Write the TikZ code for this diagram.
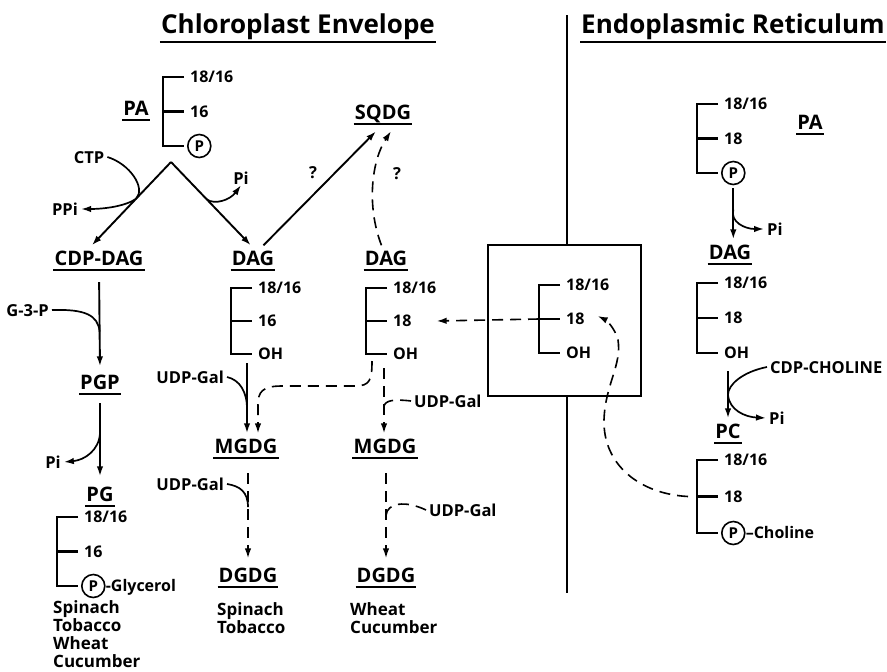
\documentclass[tikz,border=0pt]{standalone}
\usepackage{fontspec}
\setmainfont{Open Sans}
\usetikzlibrary{arrows.meta}
\tikzset{
  >={Latex[length=10pt,width=6.5pt]},
  heading/.style={font=\fontsize{26}{30}\selectfont\bfseries,anchor=base,inner xsep=1pt,inner ysep=9pt,text depth=0pt,
    append after command={(\tikzlastnode.south west) edge[line width=1.6pt] (\tikzlastnode.south east)}},
  lipid/.style={font=\fontsize{20}{24}\selectfont\bfseries,anchor=base,inner xsep=1pt,inner ysep=5pt,text depth=0pt,
    append after command={(\tikzlastnode.south west) edge[line width=1.8pt] (\tikzlastnode.south east)}},
  num/.style={font=\fontsize{16}{19}\selectfont\bfseries,anchor=west,inner sep=1pt,text height=11.5pt,text depth=0pt},
  agent/.style={font=\fontsize{16.5}{20}\selectfont\bfseries,inner xsep=3pt,inner ysep=1pt,text height=12pt,text depth=0pt},
  plant/.style={font=\fontsize{17}{18.2}\selectfont\bfseries,align=left,anchor=north west,inner sep=0pt},
  phos/.style={circle,draw,line width=1.6pt,minimum size=23pt,inner sep=0pt,anchor=west,xshift=3pt,
    text height=10.5pt,text depth=0pt,font=\fontsize{15}{18}\selectfont\bfseries},
  acyl/.style={line width=2.8pt},
  wall/.style={line width=2.8pt},
  flow/.style={->,line width=1.9pt},
  side/.style={line width=1.7pt},
  maybe/.style={->,line width=1.6pt,dash pattern=on 11pt off 7pt},
  % glycerol backbone with two acyl chains
  pics/chain/.style n args={3}{code={
    \draw[acyl] (21,0) -- (0,0) -- (0,#1) -- (21,#1) (0,#1/2) -- (21,#1/2);
    \node[num] (-top) at (26,0) {#2};
    \node[num] (-mid) at (26,#1/2) {#3};
    \coordinate (-end) at (21,#1);
    \coordinate (-lbl) at (26,#1);
    \coordinate (-spine) at (0,#1/2);
  }},
}
\begin{document}
\begin{tikzpicture}[x=1pt,y=-1pt]
  \useasboundingbox (0,0) rectangle (887,672);
  % compartments
  \node[heading] (chl) at (298,33) {Chloroplast Envelope};
  \node[heading] (er) at (733,33) {Endoplasmic Reticulum};
  \node[draw,wall,minimum width=153pt,minimum height=151pt] (pool) at (564.5,320.5) {};
  \coordinate (mtop) at (567,15);
  \coordinate (mbot) at (567,593);
  \draw[wall] (mtop) -- (mtop |- pool.north);
  \draw[wall] (mbot |- pool.south) -- (mbot);

  % chloroplast PA and its products
  \pic (pac) at (163,77) {chain={69}{18/16}{16}};
  \node[phos] (pacp) at (pac-end) {P};
  \node[lipid] (pa1) at (136,115) {PA};
  \coordinate (fork) at (171,162);
  \node[lipid] (cdp) at (99,265) {CDP-DAG};
  \node[lipid] (dag1) at (253,265) {DAG};
  \node[lipid] (dag2) at (386,265) {DAG};
  \node[lipid] (sqdg) at (383,119) {SQDG};
  \draw[flow] (fork) -- coordinate[pos=0.44] (b1) (cdp.120);
  \draw[flow] (fork) -- coordinate[pos=0.45] (b2) (dag1.100);
  \node[agent] (ctp) at (89,157) {CTP};
  \node[agent] (ppi) at (65,209) {PPi};
  \node[agent] (pi1) at (241,178) {Pi};
  \draw[side,->] (ctp.east) .. controls (130,164) and (146,188) .. (b1) .. controls (126,206) and (105,209) .. (ppi.east);
  \draw[side,->] (b2) .. controls (215,205) and (230,200) .. (pi1.south);
  \draw[flow,shorten >=10pt] (dag1.50) -- (sqdg.south);
  \draw[maybe] (dag2.110) .. controls (366,205) and (372,160) .. ([xshift=8pt,yshift=-7pt]sqdg.south);
  \node[agent] (q1) at (313,172) {?};
  \node[agent] (q2) at (397,173) {?};

  % phosphatidylglycerol
  \node[lipid] (pgp) at (100,389) {PGP};
  \node[lipid] (pg) at (100,501) {PG};
  \draw[flow,shorten <=12pt,shorten >=3pt] (cdp.south) -- coordinate[pos=0.62] (j1) (pgp.north);
  \node[agent,anchor=east] (g3p) at (52,310) {G-3-P};
  \draw[side] (g3p.east) .. controls (85,309) and (98,315) .. (j1);
  \draw[flow,shorten <=9pt,shorten >=5pt] (pgp.south) -- coordinate[pos=0.45] (j2) (pg.north);
  \node[agent] (pi2) at (53,462) {Pi};
  \draw[side,->] (j2) .. controls (99,450) and (85,460) .. (pi2.east);
  \pic (pgc) at (57,517) {chain={69}{18/16}{16}};
  \node[phos] (pgcp) at (pgc-end) {P};
  \node[num,inner xsep=0pt] (glyc) at (pgcp.east) {-Glycerol};
  \node[plant] (plants1) at (53,600) {Spinach\\Tobacco\\Wheat\\Cucumber};

  % galactolipids from 18/16 DAG
  \pic (dgc) at (231,288) {chain={66}{18/16}{16}};
  \node[num] (dgcoh) at (dgc-lbl) {OH};
  \node[lipid] (mgdg1) at (246,453) {MGDG};
  \node[lipid] (dgdg1) at (248,582) {DGDG};
  \coordinate (d1out) at (247,363);
  \draw[flow] (d1out) -- coordinate[pos=0.65] (j3) (mgdg1.north -| d1out);
  \node[agent,anchor=east] (udp1) at (227,377) {UDP-Gal};
  \draw[side] (udp1.east) .. controls (240,380) and (247,392) .. (j3);
  \draw[maybe,shorten <=15pt,shorten >=4pt] (mgdg1.south -| dgdg1.north) -- coordinate[pos=0.47] (j5) (dgdg1.north);
  \node[agent,anchor=east] (udp2) at (227,484) {UDP-Gal};
  \draw[side] (udp2.east) .. controls (240,486) and (248,492) .. (j5);
  \node[plant] (plants2) at (217,602) {Spinach\\Tobacco};

  % galactolipids from 18/18 DAG
  \pic (dgb) at (366,288) {chain={66}{18/16}{18}};
  \node[num] (dgboh) at (dgb-lbl) {OH};
  \coordinate (d2a) at (372,361);
  \draw[maybe] (d2a) .. controls (372,380) and (370,386) .. (355,386) -- (282,386) .. controls (262,386) and (258,392) .. (258,405) -- ([xshift=12pt]mgdg1.north);
  \node[lipid] (mgdg2) at (385,453) {MGDG};
  \node[lipid] (dgdg2) at (386,582) {DGDG};
  \coordinate (d2b) at (384,368);
  \draw[maybe] (d2b) -- coordinate[pos=0.6] (j4) (mgdg2.north -| d2b);
  \node[agent,anchor=west] (udp3) at (411,401) {UDP-Gal};
  \draw[maybe,-] (udp3.west) .. controls (395,399) and (384,400) .. (j4);
  \draw[maybe,shorten <=15pt,shorten >=4pt] (mgdg2.south -| dgdg2.north) -- coordinate[pos=0.55] (j6) (dgdg2.north);
  \node[agent,anchor=west] (udp4) at (426,510) {UDP-Gal};
  \draw[maybe,-] (udp4.west) .. controls (405,500) and (387,503) .. (j6);
  \node[plant] (plants3) at (350,602) {Wheat\\Cucumber};

  % DAG pool crossing the envelope
  \pic (poc) at (539,285) {chain={68}{18/16}{18}};
  \node[num] (pocoh) at (poc-lbl) {OH};
  \draw[maybe] (poc-spine) -- ([xshift=24pt]dgb-mid.east);

  % endoplasmic reticulum
  \pic (erpa) at (697,104) {chain={69}{18/16}{18}};
  \node[phos] (erpap) at (erpa-end) {P};
  \node[lipid] (pa2) at (810,129) {PA};
  \node[lipid] (dag3) at (730,259) {DAG};
  \draw[flow,shorten <=3pt] (erpap.south) -- coordinate[pos=0.45] (j7) (erpap.south |- dag3.north);
  \node[agent,anchor=west] (pi3) at (764,229) {Pi};
  \draw[side,->] (j7) .. controls (730,222) and (745,229) .. (pi3.west);
  \pic (erdag) at (697,283) {chain={70}{18/16}{18}};
  \node[num] (erdagoh) at (erdag-lbl) {OH};
  \node[lipid] (pc) at (728,438) {PC};
  \coordinate (e2out) at (728,371);
  \draw[flow] (e2out) -- coordinate[pos=0.5] (j8) (pc.north -| e2out);
  \node[agent,anchor=west] (chol) at (767,367) {CDP-CHOLINE};
  \node[agent,anchor=west] (pi4) at (766,418) {Pi};
  \draw[side,->] (chol.west) .. controls (742,372) and (728,385) .. (j8) .. controls (729,410) and (745,417) .. (pi4.west);
  \pic (erpc) at (697,460) {chain={73}{18/16}{18}};
  \node[phos] (erpcp) at (erpc-end) {P};
  \node[num,inner xsep=0pt] (cho) at (erpcp.east) {–Choline};
  \draw[maybe] ([xshift=-9pt]erpc-spine) .. controls (640,494) and (603,465) .. (604,420) .. controls (605,385) and (622,365) .. (618,340) .. controls (615,328) and (606,320) .. ([xshift=12pt,yshift=3pt]poc-mid.east);
\end{tikzpicture}
\end{document}
